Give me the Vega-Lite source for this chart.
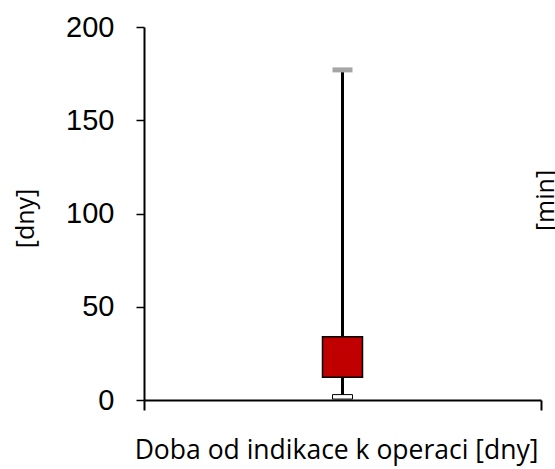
{
  "$schema": "https://vega.github.io/schema/vega-lite/v6.json",
  "width": 397,
  "height": 373,
  "autosize": "none",
  "padding": {"left": 144, "top": 27, "right": 14, "bottom": 69},
  "background": "white",
  "config": {"view": {"stroke": null}, "axis": {"grid": false}},
  "data": {"values": [
    {"kategorie": "Doba od indikace k operaci [dny]", "min": 1.7, "q1": 12.2, "q3": 33.9, "max": 177}
  ]},
  "encoding": {
    "x": {
      "field": "kategorie", "type": "nominal",
      "scale": {"paddingInner": 0, "paddingOuter": 0},
      "axis": {
        "title": "Doba od indikace k operaci [dny]",
        "labels": false, "tickBand": "extent", "tickSize": 10, "tickColor": "black", "tickWidth": 2,
        "domainColor": "black", "domainWidth": 2,
        "titleFont": "Open Sans", "titleFontSize": 26.5, "titleFontWeight": "normal", "titleColor": "black",
        "titleX": 192, "titleY": 50, "titleBaseline": "middle", "titleAlign": "center"
      }
    }
  },
  "layer": [
    {
      "mark": {"type": "rule", "color": "black", "strokeWidth": 3},
      "encoding": {
        "y": {
          "field": "min", "type": "quantitative",
          "scale": {"domain": [0, 200], "nice": false},
          "axis": {
            "orient": "left", "values": [0, 50, 100, 150, 200],
            "tickSize": 8, "tickWidth": 1.5, "tickColor": "black",
            "domainColor": "black", "domainWidth": 2,
            "labelFont": "Liberation Sans", "labelFontSize": 29, "labelColor": "black", "labelPadding": 22,
            "title": "[dny]", "titleFont": "Open Sans", "titleFontSize": 25, "titleFontWeight": "normal", "titleColor": "black",
            "titleAngle": -90, "titleX": -119, "titleY": 191, "titleAlign": "center", "titleBaseline": "middle"
          }
        },
        "y2": {"field": "max"}
      }
    },
    {
      "mark": {"type": "bar", "color": "#C00000", "stroke": "black", "strokeWidth": 1.5, "width": 40},
      "encoding": {
        "y": {"field": "q1", "type": "quantitative", "axis": null},
        "y2": {"field": "q3"}
      }
    },
    {
      "mark": {"type": "tick", "fill": "white", "stroke": "black", "strokeWidth": 1, "thickness": 4.5, "size": 20, "opacity": 1},
      "encoding": {
        "y": {"field": "min", "type": "quantitative", "axis": null}
      }
    },
    {
      "mark": {"type": "tick", "color": "#A6A6A6", "thickness": 5, "size": 20, "opacity": 1},
      "encoding": {
        "y": {
          "field": "max", "type": "quantitative",
          "axis": {
            "orient": "right", "domain": false, "ticks": false, "labels": false,
            "title": "[min]", "titleFont": "Open Sans", "titleFontSize": 25, "titleFontWeight": "normal", "titleColor": "black",
            "titleAngle": -90, "titleX": 4, "titleY": 173, "titleAlign": "center", "titleBaseline": "middle"
          }
        }
      }
    }
  ],
  "resolve": {"axis": {"y": "independent"}}
}
